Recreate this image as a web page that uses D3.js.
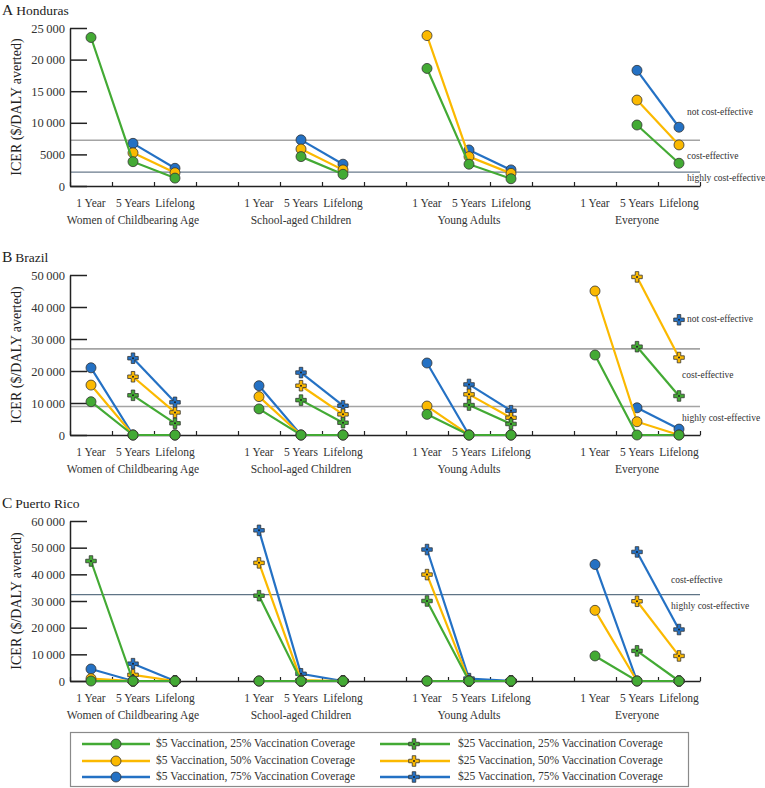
<!DOCTYPE html>
<html><head><meta charset="utf-8">
<script src="https://cdn.jsdelivr.net/npm/d3@7"></script>
<style>
body{margin:0;background:#fff;}
svg{display:block;font-family:"Liberation Serif","Times New Roman",serif;}
</style>
</head><body>
<svg id="chart" width="765" height="788"></svg>
<script>
// ---------- DATA ----------
const timeLabels = ["1 Year", "5 Years", "Lifelong"];
const groupLabels = ["Women of Childbearing Age", "School-aged Children", "Young Adults", "Everyone"];
const seriesNames = [
  "$5 Vaccination, 25% Vaccination Coverage",
  "$5 Vaccination, 50% Vaccination Coverage",
  "$5 Vaccination, 75% Vaccination Coverage",
  "$25 Vaccination, 25% Vaccination Coverage",
  "$25 Vaccination, 50% Vaccination Coverage",
  "$25 Vaccination, 75% Vaccination Coverage"
];
const countries = ["Honduras", "Brazil", "Puerto Rico"];
const panelLetters = ["A", "B", "C"];

// values: 4 groups x [1 Year, 5 Years, Lifelong]
const honduras_5_25  = [23500, 3850, 1250,  null, 4650, 1850,  18600, 3450, 1150,  null, 9650, 3600];
const honduras_5_50  = [null, 5250, 2100,   null, 5850, 2550,  23800, 4650, 2000,  null, 13600, 6500];
const honduras_5_75  = [null, 6750, 2800,   null, 7300, 3450,  null, 5700, 2550,   null, 18300, 9300];
const honduras_25_25 = [null, null, null,   null, null, null,  null, null, null,   null, null, null];
const honduras_25_50 = [null, null, null,   null, null, null,  null, null, null,   null, null, null];
const honduras_25_75 = [null, null, null,   null, null, null,  null, null, null,   null, null, null];

const brazil_5_25  = [10400, 0, 0,   8150, 0, 0,   6450, 0, 0,   25000, 0, 0];
const brazil_5_50  = [15600, 0, 0,   12000, 0, 0,  9050, 0, 0,   45000, 4150, 0];
const brazil_5_75  = [21000, 0, 0,   15400, 0, 0,  22500, 0, 0,  null, 8500, 1850];
const brazil_25_25 = [null, 12400, 3650,  null, 10900, 3850,  null, 9350, 3450,   null, 27600, 12200];
const brazil_25_50 = [null, 18200, 7050,  null, 15400, 6450,  null, 12700, 5400,  null, 49400, 24200];
const brazil_25_75 = [null, 24000, 10200, null, 19500, 9150,  null, 15800, 7600,  null, null, 36000];

const puertoRico_5_25  = [0, 0, 0,      0, 0, 0,      0, 0, 0,      9400, 0, 0];
const puertoRico_5_50  = [900, 0, 0,    0, 0, 0,      0, 0, 0,      26500, 0, 0];
const puertoRico_5_75  = [4500, 0, 0,   0, 0, 0,      0, 0, 0,      43700, 0, 0];
const puertoRico_25_25 = [45000, 0, 0,  32000, 0, 0,  30000, 0, 0,  null, 11300, 0];
const puertoRico_25_50 = [null, 2300, 0, 44300, 300, 0, 39900, 0, 0, null, 29900, 9400];
const puertoRico_25_75 = [null, 6500, 0, 56500, 2700, 0, 49300, 900, 0, null, 48400, 19300];

const yMax = [25000, 50000, 60000];
const yTicks = [
  [0, 5000, 10000, 15000, 20000, 25000],
  [0, 10000, 20000, 30000, 40000, 50000],
  [0, 10000, 20000, 30000, 40000, 50000, 60000]
];
const thresholds = [
  [7250, 2200],
  [26900, 8900],
  [32400]
];
const annotationTexts = [
  ["not cost-effective", "cost-effective", "highly cost-effective"],
  ["not cost-effective", "cost-effective", "highly cost-effective"],
  ["cost-effective", "highly cost-effective"]
];
const axisTitle = "ICER ($/DALY averted)";

// ---------- STYLE / LAYOUT ----------
const colors = ["#43aa34", "#fbb900", "#2471c4"];
const panelData = [
  [honduras_5_25, honduras_5_50, honduras_5_75, honduras_25_25, honduras_25_50, honduras_25_75],
  [brazil_5_25, brazil_5_50, brazil_5_75, brazil_25_25, brazil_25_50, brazil_25_75],
  [puertoRico_5_25, puertoRico_5_50, puertoRico_5_75, puertoRico_25_25, puertoRico_25_50, puertoRico_25_75]
];
const layout = [
  {top: 28, bottom: 186, titleY: 15,
   thrStyle: [{c: "#a4a4a4", w: 1.6}, {c: "#6a7b8c", w: 1.1}],
   ann: [[687, 113], [687, 157], [687, 179]]},
  {top: 275, bottom: 435, titleY: 262,
   thrStyle: [{c: "#a4a4a4", w: 1.6}, {c: "#a4a4a4", w: 1.6}],
   ann: [[687, 320], [682, 376], [682, 419]]},
  {top: 521, bottom: 681, titleY: 508,
   thrStyle: [{c: "#5f7486", w: 1.1}],
   ann: [[671, 581], [671, 607]]}
];
const xLeft = 70, xRight = 700, nSlots = 15;

const svg = d3.select("#chart");
const xBand = d3.scaleBand().domain(d3.range(nSlots)).range([xLeft, xRight]).padding(0);
const xEdge = d3.scaleLinear().domain([0, nSlots]).range([xLeft, xRight]);
const slotOf = i => Math.floor(i / 3) * 4 + (i % 3);
const xPos = i => xBand(slotOf(i)) + xBand.bandwidth() / 2;

const fmt = v => v >= 10000 ? d3.format(",")(v).replace(/,/g, "\u2009") : String(v);
const crossSym = d3.symbol().type(d3.symbolCross).size(62);

// draw order: $25 series (blue, orange, green) then $5 series (blue, orange, green)
const drawOrder = [5, 4, 3, 2, 1, 0];

layout.forEach((L, p) => {
  const g = svg.append("g");
  const y = d3.scaleLinear().domain([0, yMax[p]]).range([L.bottom, L.top]);

  // title
  const t = g.append("text").attr("x", 2).attr("y", L.titleY).attr("fill", "#222");
  t.append("tspan").attr("font-size", 15.5).text(panelLetters[p]);
  t.append("tspan").attr("font-size", 13.5).attr("dx", 3).text(countries[p]);

  // y axis title
  g.append("text")
    .attr("transform", `translate(18,${(L.top + L.bottom) / 2}) rotate(-90)`)
    .attr("text-anchor", "middle").attr("dominant-baseline", "middle")
    .attr("font-size", 14).attr("fill", "#222").text(axisTitle);

  // thresholds
  thresholds[p].forEach((v, k) => {
    g.append("line").attr("x1", xLeft).attr("x2", xRight)
      .attr("y1", y(v)).attr("y2", y(v))
      .attr("stroke", L.thrStyle[k].c).attr("stroke-width", L.thrStyle[k].w);
  });

  // y axis
  const ya = g.append("g").attr("transform", `translate(${xLeft},0)`)
    .call(d3.axisLeft(y).tickValues(yTicks[p]).tickFormat(fmt).tickSize(-17).tickSizeOuter(0).tickPadding(5));
  ya.selectAll("path").attr("stroke", "#222").attr("stroke-width", 1.5);
  ya.selectAll("line").attr("stroke", "#222").attr("stroke-width", 1.5);
  ya.selectAll("text").attr("font-size", 12.5).attr("font-family", "Liberation Serif, serif").attr("fill", "#333");

  // x axis
  const xa = g.append("g").attr("transform", `translate(0,${L.bottom})`)
    .call(d3.axisBottom(xEdge).tickValues(d3.range(nSlots + 1)).tickSize(-4).tickSizeOuter(0).tickFormat(""));
  xa.selectAll("path").attr("stroke", "#222").attr("stroke-width", 1.5);
  xa.selectAll("line").attr("stroke", "#222").attr("stroke-width", 1.2);

  // category labels
  for (let i = 0; i < 12; i++) {
    g.append("text").attr("x", xPos(i)).attr("y", L.bottom + 20.5)
      .attr("text-anchor", "middle").attr("font-size", 11.5).attr("fill", "#333")
      .text(timeLabels[i % 3]);
  }
  groupLabels.forEach((lab, k) => {
    g.append("text").attr("x", xPos(k * 3 + 1)).attr("y", L.bottom + 37.5)
      .attr("text-anchor", "middle").attr("font-size", 11.5).attr("fill", "#333")
      .text(lab);
  });

  // series
  drawOrder.forEach(s => {
    const vals = panelData[p][s];
    const col = colors[s % 3];
    const isCross = s >= 3;
    for (let grp = 0; grp < 4; grp++) {
      const pts = d3.range(3).map(t => ({i: grp * 3 + t, v: vals[grp * 3 + t]}));
      const line = d3.line().defined(d => d.v != null).x(d => xPos(d.i)).y(d => y(d.v));
      g.append("path").datum(pts).attr("d", line)
        .attr("fill", "none").attr("stroke", col).attr("stroke-width", 2.2);
    }
    vals.forEach((v, i) => {
      if (v == null) return;
      if (isCross) {
        g.append("path").attr("d", crossSym())
          .attr("transform", `translate(${xPos(i)},${y(v)})`)
          .attr("fill", col).attr("stroke", "#333").attr("stroke-width", 0.8)
          .attr("stroke-linejoin", "round");
        g.append("circle").attr("cx", xPos(i)).attr("cy", y(v)).attr("r", 1).attr("fill", "#222");
      } else {
        g.append("circle").attr("cx", xPos(i)).attr("cy", y(v)).attr("r", 5)
          .attr("fill", col).attr("stroke", "#333").attr("stroke-width", 0.8);
      }
    });
  });

  // annotations
  annotationTexts[p].forEach((txt, k) => {
    g.append("text").attr("x", L.ann[k][0]).attr("y", L.ann[k][1])
      .attr("dominant-baseline", "middle").attr("font-size", 9.5).attr("fill", "#333")
      .text(txt);
  });
});

// ---------- LEGEND ----------
const lg = svg.append("g");
lg.append("rect").attr("x", 70.5).attr("y", 732.5).attr("width", 618).attr("height", 54)
  .attr("fill", "none").attr("stroke", "#8a8a8a").attr("stroke-width", 1.2);
const rowY = [744, 761, 777];
const colX = [{l1: 82, l2: 150, m: 116, tx: 156}, {l1: 380, l2: 450, m: 414, tx: 458}];
seriesNames.forEach((name, s) => {
  const c = colX[s >= 3 ? 1 : 0];
  const yy = rowY[s % 3];
  const col = colors[s % 3];
  lg.append("line").attr("x1", c.l1).attr("x2", c.l2).attr("y1", yy).attr("y2", yy)
    .attr("stroke", col).attr("stroke-width", 2.5);
  if (s >= 3) {
    lg.append("path").attr("d", crossSym()).attr("transform", `translate(${c.m},${yy})`)
      .attr("fill", col).attr("stroke", "#333").attr("stroke-width", 0.8).attr("stroke-linejoin", "round");
    lg.append("circle").attr("cx", c.m).attr("cy", yy).attr("r", 1).attr("fill", "#222");
  } else {
    lg.append("circle").attr("cx", c.m).attr("cy", yy).attr("r", 5)
      .attr("fill", col).attr("stroke", "#333").attr("stroke-width", 0.8);
  }
  lg.append("text").attr("x", c.tx).attr("y", yy).attr("dominant-baseline", "middle")
    .attr("font-size", 11.5).attr("fill", "#333").text(name);
});
</script>
</body></html>
